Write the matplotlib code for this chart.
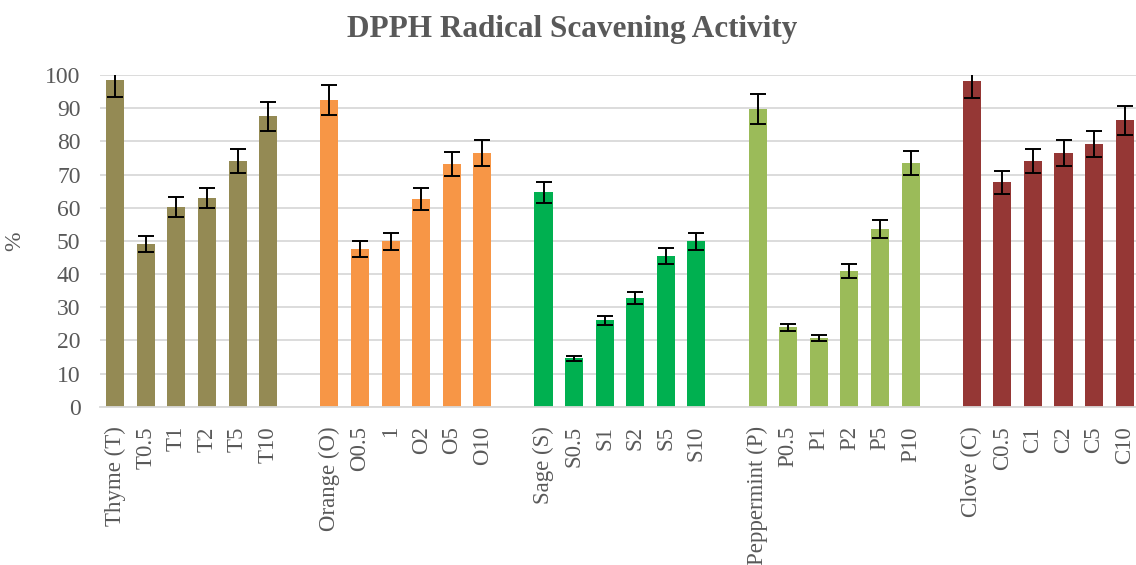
import matplotlib.pyplot as plt
import numpy as np

# group data
groups = ["Thyme", "Orange", "Sage", "Peppermint", "Clove"]
colors = ["#948A54", "#F79646", "#00B050", "#9BBB59", "#953735"]

thyme_labels = ["Thyme (T)", "T0.5", "T1", "T2", "T5", "T10"]
thyme_vals = [98.5, 49.0, 60.2, 62.9, 74.1, 87.6]
thyme_err = [5.0, 2.4, 3.0, 3.1, 3.7, 4.4]

orange_labels = ["Orange (O)", "O0.5", "1", "O2", "O5", "O10"]
orange_vals = [92.5, 47.5, 49.9, 62.6, 73.2, 76.5]
orange_err = [4.6, 2.4, 2.5, 3.3, 3.7, 3.9]

sage_labels = ["Sage (S)", "S0.5", "S1", "S2", "S5", "S10"]
sage_vals = [64.7, 14.7, 26.1, 32.8, 45.4, 49.9]
sage_err = [3.2, 0.75, 1.4, 1.75, 2.4, 2.5]

pepp_labels = ["Peppermint (P)", "P0.5", "P1", "P2", "P5", "P10"]
pepp_vals = [89.7, 24.0, 20.7, 40.9, 53.6, 73.5]
pepp_err = [4.5, 1.1, 1.0, 2.1, 2.7, 3.7]

clove_labels = ["Clove (C)", "C0.5", "C1", "C2", "C5", "C10"]
clove_vals = [98.2, 67.7, 74.1, 76.5, 79.2, 86.4]
clove_err = [5.0, 3.5, 3.7, 3.9, 4.0, 4.3]

all_labels = [thyme_labels, orange_labels, sage_labels, pepp_labels, clove_labels]
all_vals = [thyme_vals, orange_vals, sage_vals, pepp_vals, clove_vals]
all_err = [thyme_err, orange_err, sage_err, pepp_err, clove_err]

plt.rcParams['font.family'] = ['Liberation Serif', 'DejaVu Serif']
grey = "#595959"

fig = plt.figure(figsize=(11.36, 5.65), dpi=100)
ax = fig.add_axes([0.088, 0.280, 0.9155, 0.587])

ticks, ticklabels = [], []
for g, (labels, vals, err, col) in enumerate(zip(all_labels, all_vals, all_err, colors)):
    x = np.arange(len(vals)) + g * 7
    ax.bar(x, vals, width=0.59, color=col, zorder=2)
    ax.errorbar(x, vals, yerr=err, fmt="none", ecolor="black", elinewidth=1.4,
                capsize=5.5, capthick=1.4, zorder=3)
    ticks.extend(x)
    ticklabels.extend(labels)

ax.set_xlim(-0.5, 33.5)
ax.set_ylim(0, 100)
ax.set_yticks(range(0, 101, 10))
ax.set_xticks(ticks)
ax.set_xticklabels(ticklabels, rotation=90, fontsize=16.5, color=grey)
ax.tick_params(axis="y", labelsize=17, labelcolor=grey, length=0, pad=14)
ax.tick_params(axis="x", length=0, pad=14)

ax.yaxis.grid(True, color="#D9D9D9", linewidth=1.3, zorder=0)
ax.set_axisbelow(True)
for side in ["top", "right", "left"]:
    ax.spines[side].set_visible(False)
ax.spines["bottom"].set_color("#D9D9D9")
ax.spines["bottom"].set_linewidth(1.3)

ax.set_ylabel("%", fontsize=17, color=grey, labelpad=14)
fig.text(0.504, 0.947, "DPPH Radical Scavening Activity", ha="center", va="center",
         fontsize=22.5, fontweight="bold", color=grey)

fig.savefig("out.png", dpi=100)
